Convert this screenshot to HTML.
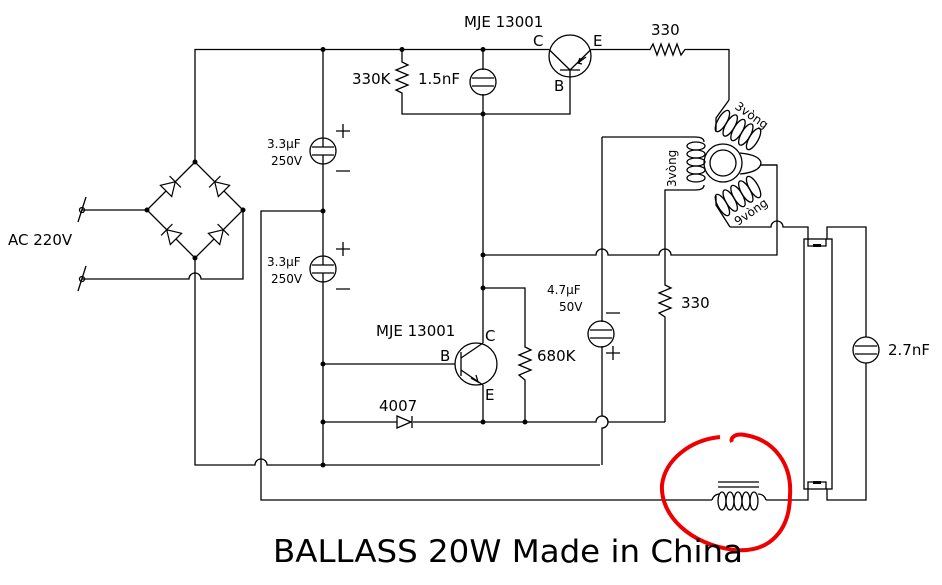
<!DOCTYPE html>
<html><head><meta charset="utf-8"><style>
html,body{margin:0;padding:0;background:#fff}
svg{display:block}
text{font-family:"DejaVu Sans","Liberation Sans",sans-serif;fill:#000}
</style></head><body>
<svg width="942" height="585" viewBox="0 0 942 585" xmlns="http://www.w3.org/2000/svg">
<defs>
<g id="dio"><path d="M-7 -8 L-7 8 L6 0 Z" fill="#fff" stroke="#000" stroke-width="1.2"/><path d="M6 -8 V8" stroke="#000" stroke-width="1.2"/></g>
</defs>
<g stroke="#000" stroke-width="1.3" fill="none">
<path d="M195 162 V49.5 H549"/>
<path d="M195 162 L147 210 L195 258 L243 210 Z"/>
<path d="M82 210 H147 M82 279 H189 A6 6 0 0 1 201 279 H243 V210"/>
<path d="M195 258 V465 H255 A6 6 0 0 1 267 465 H600"/>
<circle cx="82" cy="210" r="2.5"/><circle cx="82" cy="279" r="2.5"/>
<path d="M78 222 L86 197 M78 291 L86 266"/>
<path d="M323 49.5 V138 M323 164 V256 M323 282 V465"/>
<circle cx="323" cy="151" r="13"/><path d="M312 147 H334 M312 155 H334 M323 138 V147 M323 155 V164"/>
<circle cx="323" cy="269" r="13"/><path d="M312 265 H334 M312 273 H334 M323 256 V265 M323 273 V282"/>
<path d="M336 131 H350 M343 124 V138 M336 171 H350 M336 249 H350 M343 242 V256 M336 289 H350"/>
<path d="M323 211 H261 V500 H712"/>
<path d="M402 49.5 V62 L408 65 L396 70 L408 75 L396 80 L408 85 L396 90 L402 93 V114 H570 V77"/>
<path d="M483 49.5 V70 M483 94 V114"/>
<circle cx="483" cy="82" r="13"/><path d="M472 78 H494 M472 86 H494"/>
<circle cx="570" cy="56" r="21"/>
<path d="M549 49.5 L570 70 M591 49.5 L570 70 M560 70 H580 M570 70 V77"/>
<path d="M591 49.5 H650 L653 44 L657 55 L661 44 L665 55 L669 44 L673 55 L677 44 L681 55 L685 49.5 H729 V100"/>
<path d="M578 63 L586 57 M582 64 L578 63 L580 58"/>
<path d="M483 114 V343 M483 385 V422"/>
<path d="M483 255 H596 A6 6 0 0 1 608 255 H659 A6 6 0 0 1 671 255 H777 V165 H760"/>
<path d="M602 137 H695 M602 137 V322 M602 346 V416 A6 6 0 0 1 602 428 V465"/>
<path d="M695 190 H665 V285 L671 288 L659 293 L671 298 L659 303 L671 308 L659 313 L665 317 V422"/>
<circle cx="601" cy="334" r="13"/><path d="M590 330 H612 M590 338 H612"/>
<path d="M606 313 H620 M606 353 H620 M613 346 V360"/>
<path d="M323 422 H397 M413 422 H596 A6 6 0 0 1 608 422 H665"/>
<path d="M397 416 V428 L411 422 Z M412 416 V428"/>
<circle cx="476" cy="364" r="21"/>
<path d="M323 364 H455 M461 352 V376 M461 358 L483 343 M461 370 L483 385"/>
<path d="M471 378 L478 382 L476 375"/>
<path d="M483 288 H525 V347 L531 350 L519 355 L531 360 L519 365 L531 370 L519 375 L525 380 V422"/>
<circle cx="723" cy="163" r="19"/><circle cx="723" cy="163" r="13"/>
<path d="M740 153 Q760 155 761 163 Q760 172 740 174"/>
<path d="M695 137 Q704 137 704 142 M695 190 Q704 190 704 185"/>
<ellipse cx="696" cy="146" rx="9" ry="4"/><ellipse cx="696" cy="154" rx="9" ry="4"/><ellipse cx="696" cy="162" rx="9" ry="4"/><ellipse cx="696" cy="170" rx="9" ry="4"/><ellipse cx="696" cy="178" rx="9" ry="4"/>
<path d="M729 100 L716 118 L716 132"/>
<g transform="rotate(30 738 130)">
<ellipse cx="720" cy="130" rx="4.5" ry="12"/><ellipse cx="729" cy="130" rx="4.5" ry="12"/><ellipse cx="738" cy="130" rx="4.5" ry="12"/><ellipse cx="747" cy="130" rx="4.5" ry="12"/><ellipse cx="756" cy="130" rx="4.5" ry="12"/>
</g>
<path d="M760 165 H777 M730 227 L716 205 L716 196"/>
<g transform="rotate(-30 738 196)">
<ellipse cx="720" cy="196" rx="4.5" ry="12"/><ellipse cx="729" cy="196" rx="4.5" ry="12"/><ellipse cx="738" cy="196" rx="4.5" ry="12"/><ellipse cx="747" cy="196" rx="4.5" ry="12"/><ellipse cx="756" cy="196" rx="4.5" ry="12"/>
</g>
<path d="M730 227 H771 A6 6 0 0 1 783 227 H808 V240"/>
<rect x="804" y="239" width="28" height="250"/>
<path d="M808 239 V246 H826 V239 M808 489 V482 H826 V489"/>
<path d="M827 239 V227 H866 V337 M866 363 V500 H827 V489"/>
<circle cx="866" cy="350" r="13"/><path d="M855 346 H877 M855 354 H877"/>
<path d="M766 500 H808 V489"/>
<path d="M712 500 Q714 494 720 494 M758 494 Q764 494 766 500"/>
<ellipse cx="722" cy="501" rx="4" ry="9"/><ellipse cx="730" cy="501" rx="4" ry="9"/><ellipse cx="738" cy="501" rx="4" ry="9"/><ellipse cx="746" cy="501" rx="4" ry="9"/><ellipse cx="754" cy="501" rx="4" ry="9"/>
<path d="M718 482 H759 M718 487 H759"/>
</g>
<use href="#dio" transform="translate(171 186) rotate(-45)"/>
<use href="#dio" transform="translate(219 186) rotate(-135)"/>
<use href="#dio" transform="translate(171 234) rotate(-135)"/>
<use href="#dio" transform="translate(219 234) rotate(-45)"/>
<g fill="#000">
<rect x="813" y="244" width="8" height="3"/><rect x="813" y="481" width="8" height="3"/>
<circle cx="323" cy="49.5" r="2.5"/><circle cx="402" cy="49.5" r="2.5"/><circle cx="483" cy="49.5" r="2.5"/><circle cx="483" cy="114" r="2.5"/>
<circle cx="195" cy="162" r="2.5"/><circle cx="147" cy="210" r="2.5"/><circle cx="243" cy="210" r="2.5"/><circle cx="195" cy="258" r="2.5"/>
<circle cx="323" cy="211" r="2.5"/><circle cx="483" cy="255" r="2.5"/><circle cx="483" cy="288" r="2.5"/>
<circle cx="323" cy="364" r="2.5"/><circle cx="323" cy="422" r="2.5"/><circle cx="323" cy="465" r="2.5"/>
<circle cx="483" cy="422" r="2.5"/><circle cx="525" cy="422" r="2.5"/>
</g>
<path d="M720 437 C690 440 665 460 662 485 C660 515 690 545 735 550 C770 553 790 530 790 495 C792 465 775 440 745 435 C735 433 730 438 732 442" stroke="#e00" stroke-width="4" fill="none"/>
<g font-size="15">
<text x="8" y="245">AC 220V</text>
<text x="352" y="84">330K</text>
<text x="418" y="84">1.5nF</text>
<text x="464" y="27">MJE 13001</text>
<text x="533" y="46">C</text>
<text x="593" y="46">E</text>
<text x="554" y="91">B</text>
<text x="651" y="35">330</text>
<text x="376" y="336">MJE 13001</text>
<text x="485" y="341">C</text>
<text x="440" y="361">B</text>
<text x="485" y="400">E</text>
<text x="537" y="361">680K</text>
<text x="379" y="411">4007</text>
<text x="681" y="308">330</text>
<text x="888" y="355">2.7nF</text>
</g>
<g font-size="12" font-family="Liberation Sans, sans-serif">
<text x="267" y="148">3.3µF</text><text x="271" y="165">250V</text>
<text x="267" y="266">3.3µF</text><text x="271" y="283">250V</text>
<text x="547" y="294">4.7µF</text><text x="559" y="311">50V</text>
<text transform="translate(734 108) rotate(35)" font-size="12">3vòng</text>
<text transform="translate(676 187) rotate(-90)" font-size="12">3vòng</text>
<text transform="translate(738 226) rotate(-35)" font-size="12">9vòng</text>
</g>
<text x="273" y="562" font-size="31" textLength="470" lengthAdjust="spacingAndGlyphs" font-family="DejaVu Sans, sans-serif">BALLASS 20W Made in China</text>
</svg>
</body></html>
